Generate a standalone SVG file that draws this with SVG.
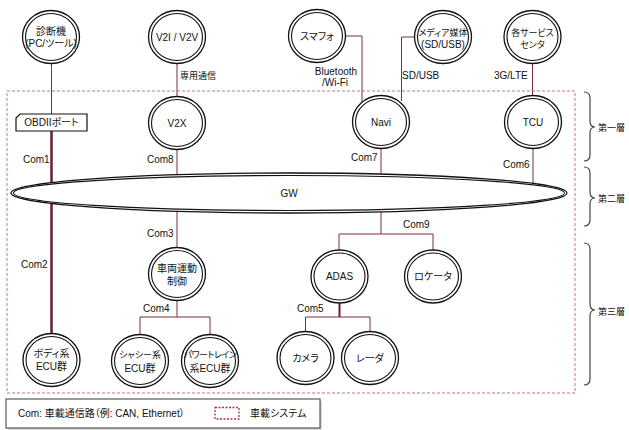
<svg xmlns="http://www.w3.org/2000/svg" width="629" height="430" viewBox="0 0 629 430">
<defs>
<style>
text{font-family:"Liberation Sans","Noto Sans CJK JP",sans-serif;font-size:10px;fill:#111;font-feature-settings:"palt"}
.n text{text-anchor:middle}
.o{fill:#fff;stroke:#111;stroke-width:1.3}
.i{fill:none;stroke:#111;stroke-width:1.1}
.c{fill:none;stroke:#7b2c3f;stroke-width:1}
.ct{fill:none;stroke:#6d1b2d;stroke-width:2.5}
.lbl{font-size:10px}
.br{fill:none;stroke:#444;stroke-width:1.2}
.s{font-size:9px}
.n text.t{font-size:9px}
</style>
</defs>
<rect width="629" height="430" fill="#fff"/>
<!-- system boundary -->
<rect id="system" x="7" y="91" width="568" height="302" fill="none" stroke="#c47584" stroke-width="1" stroke-dasharray="3 2"/>
<!-- connectors -->
<g id="connectors">
<path class="c" d="M51.5,63.5V114"/>
<path class="ct" d="M51.5,131V334"/>
<path class="c" d="M177,63.5V96.5"/>
<path class="c" d="M177,149.5V185"/>
<path class="c" d="M345.5,36H362V102"/>
<path class="c" d="M414.5,37H401.5V101"/>
<path class="c" d="M532.5,63.5V95.5"/>
<path class="c" d="M381,148.5V185"/>
<path class="c" d="M533,148.5V190"/>
<path class="c" d="M177,205V248"/>
<path class="c" d="M381,205V234"/>
<path class="c" d="M339,250V234H433V250"/>
<path class="c" d="M177,300.5V317"/>
<path class="c" d="M140,334.5V317H210V334.5"/>
<path class="ct" d="M339.5,303V317" style="stroke-width:2"/>
<path class="c" d="M305.5,332V317H370V332"/>
</g>
<!-- connector labels -->
<g id="labels" class="lbl">
<text x="23" y="162.5">Com1</text>
<text x="21" y="267.5">Com2</text>
<text x="147" y="237">Com3</text>
<text x="143" y="311.5">Com4</text>
<text x="297" y="311.5">Com5</text>
<text x="503" y="167.5">Com6</text>
<text x="351" y="160.5">Com7</text>
<text x="147" y="162.5">Com8</text>
<text x="403" y="227.5">Com9</text>
<text x="180" y="78.5" class="s">専用通信</text>
<text x="336" y="74.5" text-anchor="middle">Bluetooth</text>
<text x="335" y="85.5" text-anchor="middle">/Wi-Fi</text>
<text x="402" y="78.5">SD/USB</text>
<text x="494" y="78.5">3G/LTE</text>
</g>
<!-- GW -->
<g id="gw" class="n">
<ellipse class="o" cx="289" cy="193" rx="278" ry="20"/>
<ellipse class="i" cx="289" cy="193" rx="275.5" ry="17.5"/>
<text x="289" y="196.5">GW</text>
</g>
<!-- OBD port -->
<g id="obd" class="n">
<path d="M20,114H87V131H16V118Z" fill="#fff" stroke="#111" stroke-width="1.2"/>
<text x="51.5" y="126">OBDIIポート</text>
</g>
<!-- nodes -->
<g id="diag" class="n"><ellipse class="o" cx="51" cy="37" rx="28.5" ry="26.5"/><ellipse class="i" cx="51" cy="37" rx="25.5" ry="23.5"/><text x="51" y="35">診断機</text><text x="51" y="47">(PC/ツール)</text></g>
<g id="v2iv" class="n"><ellipse class="o" cx="177" cy="37" rx="28.5" ry="26.5"/><ellipse class="i" cx="177" cy="37" rx="25.5" ry="23.5"/><text x="177" y="40.5">V2I / V2V</text></g>
<g id="smartphone" class="n"><ellipse class="o" cx="317" cy="36" rx="28.5" ry="26.5"/><ellipse class="i" cx="317" cy="36" rx="25.5" ry="23.5"/><text x="317" y="39.5">スマフォ</text></g>
<g id="media" class="n"><ellipse class="o" cx="443" cy="37" rx="28.5" ry="26.5"/><ellipse class="i" cx="443" cy="37" rx="25.5" ry="23.5"/><text x="443" y="35.5" class="t">メディア媒体</text><text x="443" y="47.5">(SD/USB)</text></g>
<g id="service" class="n"><ellipse class="o" cx="532.5" cy="37" rx="28.5" ry="26.5"/><ellipse class="i" cx="532.5" cy="37" rx="25.5" ry="23.5"/><text x="532.5" y="35.5" class="t">各サービス</text><text x="532.5" y="47.5" class="t">センタ</text></g>
<g id="v2x" class="n"><ellipse class="o" cx="177" cy="123" rx="28.5" ry="26.5"/><ellipse class="i" cx="177" cy="123" rx="25.5" ry="23.5"/><text x="177" y="126.5">V2X</text></g>
<g id="navi" class="n"><ellipse class="o" cx="381" cy="122" rx="28.5" ry="26.5"/><ellipse class="i" cx="381" cy="122" rx="25.5" ry="23.5"/><text x="381" y="125.5">Navi</text></g>
<g id="tcu" class="n"><ellipse class="o" cx="533" cy="122" rx="28.5" ry="26.5"/><ellipse class="i" cx="533" cy="122" rx="25.5" ry="23.5"/><text x="533" y="125.5">TCU</text></g>
<g id="vmc" class="n"><ellipse class="o" cx="177" cy="274" rx="28.5" ry="26.5"/><ellipse class="i" cx="177" cy="274" rx="25.5" ry="23.5"/><text x="177" y="271.5">車両運動</text><text x="177" y="284.5">制御</text></g>
<g id="adas" class="n"><ellipse class="o" cx="339.5" cy="276.5" rx="28.5" ry="26.5"/><ellipse class="i" cx="339.5" cy="276.5" rx="25.5" ry="23.5"/><text x="339.5" y="280">ADAS</text></g>
<g id="locator" class="n"><ellipse class="o" cx="433" cy="276.5" rx="28.5" ry="26.5"/><ellipse class="i" cx="433" cy="276.5" rx="25.5" ry="23.5"/><text x="433" y="280">ロケータ</text></g>
<g id="body" class="n"><ellipse class="o" cx="51.5" cy="360" rx="28.5" ry="26.5"/><ellipse class="i" cx="51.5" cy="360" rx="25.5" ry="23.5"/><text x="51.5" y="356.5">ボディ系</text><text x="51.5" y="370">ECU群</text></g>
<g id="chassis" class="n"><ellipse class="o" cx="140" cy="361" rx="28.5" ry="26.5"/><ellipse class="i" cx="140" cy="361" rx="25.5" ry="23.5"/><text x="140" y="358" class="t">シャシー系</text><text x="140" y="371.5">ECU群</text></g>
<g id="powertrain" class="n"><ellipse class="o" cx="210" cy="361" rx="28.5" ry="26.5"/><ellipse class="i" cx="210" cy="361" rx="25.5" ry="23.5"/><text x="210" y="358" class="t" style="letter-spacing:-0.5px">パワートレイン</text><text x="210" y="371.5">系ECU群</text></g>
<g id="camera" class="n"><ellipse class="o" cx="305.5" cy="358" rx="28.5" ry="26.5"/><ellipse class="i" cx="305.5" cy="358" rx="25.5" ry="23.5"/><text x="305.5" y="361.5">カメラ</text></g>
<g id="radar" class="n"><ellipse class="o" cx="370" cy="358" rx="28.5" ry="26.5"/><ellipse class="i" cx="370" cy="358" rx="25.5" ry="23.5"/><text x="370" y="361.5">レーダ</text></g>
<!-- layer braces -->
<g id="layers">
<path class="br" d="M584,92Q590,92 590,98V121Q590,127 595,127Q590,127 590,133V155Q590,161 584,161"/>
<path class="br" d="M584,167Q590,167 590,173V192Q590,198 595,198Q590,198 590,204V220Q590,226 584,226"/>
<path class="br" d="M584,243Q590,243 590,249V304Q590,310 595,310Q590,310 590,316V379Q590,385 584,385"/>
<text x="598" y="131" class="s">第一層</text>
<text x="598" y="201.5" class="s">第二層</text>
<text x="598" y="314.5" class="s">第三層</text>
</g>
<!-- legend -->
<g id="legend">
<rect x="7.5" y="400.5" width="314" height="29" fill="#bbb"/>
<rect x="6" y="399" width="314" height="29" fill="#fff" stroke="#666" stroke-width="1.3"/>
<text x="18" y="417">Com: 車載通信路（例: CAN, Ethernet）</text>
<rect x="215" y="407.5" width="24" height="11.5" fill="none" stroke="#a3344f" stroke-width="1.3" stroke-dasharray="2 1.5"/>
<text x="250" y="417">車載システム</text>
</g>
</svg>
